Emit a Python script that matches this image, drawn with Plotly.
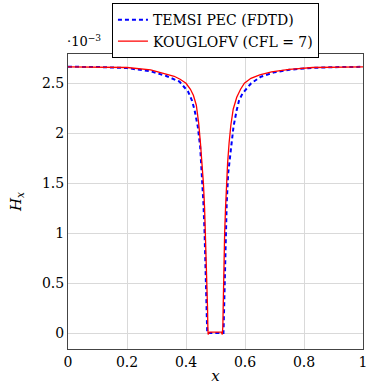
import plotly.graph_objects as go

# Data (H_x in units of 1e-3)
temsi_x = [0.0, 0.1, 0.2, 0.28, 0.333, 0.378, 0.407, 0.42, 0.429, 0.440, 0.448, 0.454, 0.459,
           0.463, 0.466, 0.469, 0.471, 0.472, 0.50, 0.527, 0.528, 0.530, 0.532, 0.534, 0.538,
           0.543, 0.551, 0.561, 0.572, 0.580, 0.592, 0.621, 0.654, 0.70, 0.75, 0.83, 0.9, 1.0]
temsi_y = [2.665, 2.663, 2.652, 2.62, 2.573, 2.516, 2.417, 2.33, 2.233, 2.066, 1.866, 1.6, 1.3,
           1.0, 0.7, 0.4, 0.1, 0.0, 0.0, 0.0, 0.1, 0.4, 0.7, 1.0, 1.3,
           1.6, 1.833, 2.066, 2.233, 2.33, 2.40, 2.50, 2.566, 2.61, 2.635, 2.655, 2.661, 2.665]

koug_x = [0.0, 0.1, 0.2, 0.28, 0.33, 0.36, 0.38, 0.40, 0.415, 0.425, 0.435, 0.443, 0.449, 0.455,
          0.459, 0.463, 0.466, 0.469, 0.471, 0.473, 0.474, 0.475, 0.48, 0.49, 0.50, 0.51, 0.52,
          0.523, 0.525, 0.526, 0.527, 0.529, 0.531, 0.534, 0.537, 0.541, 0.546, 0.552, 0.560,
          0.572, 0.585, 0.598, 0.62, 0.65, 0.69, 0.75, 0.83, 0.9, 1.0]
koug_y = [2.665, 2.664, 2.658, 2.634, 2.595, 2.57, 2.54, 2.50, 2.44, 2.38, 2.28, 2.10, 1.90, 1.70,
          1.50, 1.25, 1.00, 0.75, 0.50, 0.25, 0.07, -0.015, 0.008, 0.008, 0.008, 0.008, 0.008,
          -0.015, 0.07, 0.25, 0.50, 0.75, 1.00, 1.25, 1.50, 1.70, 1.90, 2.08, 2.24,
          2.36, 2.44, 2.50, 2.55, 2.585, 2.615, 2.64, 2.658, 2.663, 2.665]

x_ticks = [0, 0.2, 0.4, 0.6, 0.8, 1]
x_ticktext = ["0", "0.2", "0.4", "0.6", "0.8", "1"]
y_ticks = [0, 0.5, 1, 1.5, 2, 2.5]
y_ticktext = ["0", "0.5", "1", "1.5", "2", "2.5"]

FONT = "DejaVu Serif"

fig = go.Figure()
fig.add_trace(go.Scatter(x=temsi_x, y=temsi_y, mode="lines", name="TEMSI PEC (FDTD)",
                         line=dict(color="#0000ff", width=2, dash="4px,3px")))
fig.add_trace(go.Scatter(x=koug_x, y=koug_y, mode="lines", name="KOUGLOFV (CFL = 7)",
                         line=dict(color="#ff0000", width=1.3)))

fig.update_layout(
    width=366, height=385,
    margin=dict(l=68, r=3, t=54, b=36),
    paper_bgcolor="white", plot_bgcolor="white",
    font=dict(family=FONT, size=14, color="black"),
    showlegend=True,
    legend=dict(x=0.149, y=1.172, xanchor="left", yanchor="top",
                bordercolor="black", borderwidth=1, bgcolor="white",
                font=dict(family=FONT, size=14), tracegroupgap=0,
                itemwidth=30),
    xaxis=dict(range=[0, 1], tickvals=x_ticks, ticktext=x_ticktext,
               showgrid=True, gridcolor="#d9d9d9", gridwidth=1,
               showline=True, linecolor="#444", linewidth=1, mirror=True,
               ticks="", zeroline=False, tickfont=dict(size=14),
               ticklabeloverflow="allow", automargin=False,
               title=dict(text="<i>x</i>", font=dict(size=15), standoff=10)),
    yaxis=dict(range=[-0.16, 2.793], tickvals=y_ticks, ticktext=y_ticktext,
               showgrid=True, gridcolor="#d9d9d9", gridwidth=1,
               showline=True, linecolor="#444", linewidth=1, mirror=True,
               ticks="", zeroline=False, tickfont=dict(size=14),
               automargin=False,
               title=dict(text="<i>H<sub>x</sub></i>", font=dict(size=15), standoff=16)),
)

fig.add_annotation(text="·10<sup>−3</sup>", xref="paper", yref="paper",
                   x=-0.01, y=1.01, xanchor="left", yanchor="bottom",
                   showarrow=False, font=dict(family=FONT, size=13))

fig.write_html("out.html", config={"displayModeBar": False},
               post_script="document.body.style.margin='0';document.body.style.overflow='hidden';")
